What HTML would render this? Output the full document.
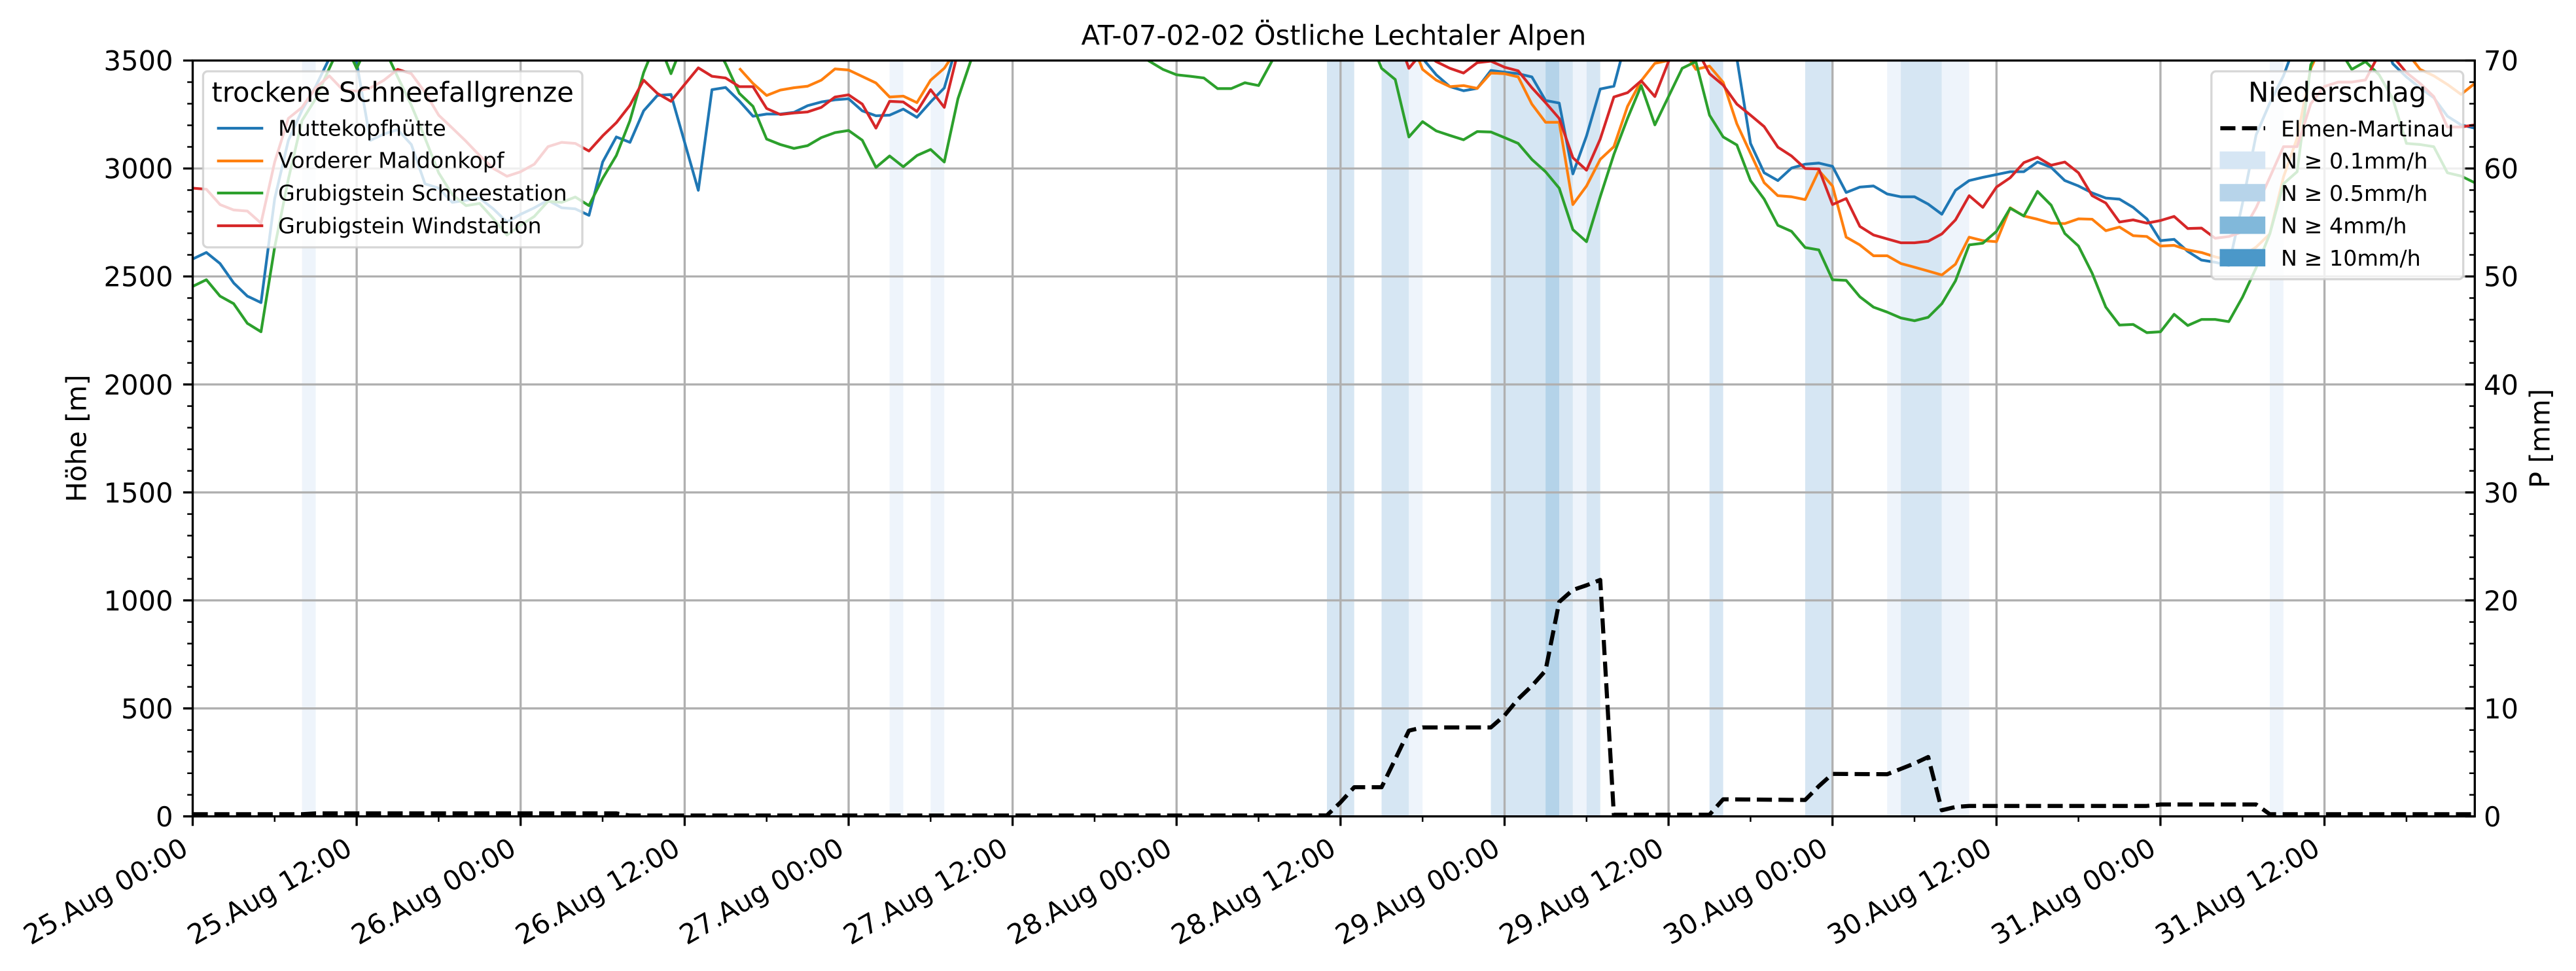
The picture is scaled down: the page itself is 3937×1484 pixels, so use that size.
<!DOCTYPE html>
<html>
<head>
<meta charset="utf-8">
<style>
html,body{margin:0;padding:0;background:#fff;}
svg{display:block;}
text{font-family:"DejaVu Sans","Liberation Sans",sans-serif;fill:#000;}
.tk{font-size:41.67px;}
.lg{font-size:33.33px;}
.ln{fill:none;stroke-width:4.17;stroke-linejoin:round;vector-effect:non-scaling-stroke;}
</style>
</head>
<body>
<svg width="3937" height="1484" viewBox="0 0 3937 1484" xmlns="http://www.w3.org/2000/svg">
<defs>
<clipPath id="ax"><rect x="294.5" y="92.5" width="3487.8" height="1155.2"/></clipPath>
</defs>
<rect x="0" y="0" width="3937" height="1484" fill="#fff"/>

<!-- precipitation bands -->
<g>
<rect x="461.6" y="92.5" width="20.9" height="1155.2" fill="#eef4fb"/>
<rect x="1359.6" y="92.5" width="20.9" height="1155.2" fill="#eef4fb"/>
<rect x="1422.3" y="92.5" width="20.9" height="1155.2" fill="#eef4fb"/>
<rect x="2028.0" y="92.5" width="41.7" height="1155.2" fill="#d6e6f3"/>
<rect x="2111.5" y="92.5" width="41.8" height="1155.2" fill="#d6e6f3"/>
<rect x="2153.3" y="92.5" width="20.9" height="1155.2" fill="#eef4fb"/>
<rect x="2278.6" y="92.5" width="83.5" height="1155.2" fill="#d6e6f3"/>
<rect x="2362.1" y="92.5" width="20.9" height="1155.2" fill="#b4d3e9"/>
<rect x="2383.0" y="92.5" width="20.9" height="1155.2" fill="#d6e6f3"/>
<rect x="2403.9" y="92.5" width="20.9" height="1155.2" fill="#eef4fb"/>
<rect x="2424.8" y="92.5" width="20.9" height="1155.2" fill="#d6e6f3"/>
<rect x="2612.7" y="92.5" width="20.9" height="1155.2" fill="#d6e6f3"/>
<rect x="2758.9" y="92.5" width="41.8" height="1155.2" fill="#d6e6f3"/>
<rect x="2884.2" y="92.5" width="20.9" height="1155.2" fill="#eef4fb"/>
<rect x="2905.1" y="92.5" width="62.7" height="1155.2" fill="#d6e6f3"/>
<rect x="2967.8" y="92.5" width="41.8" height="1155.2" fill="#eef4fb"/>
<rect x="3469.0" y="92.5" width="20.9" height="1155.2" fill="#eef4fb"/>
</g>

<!-- grid -->
<g stroke="#b0b0b0" stroke-width="3.33" fill="none">
<path d="M545.1 92.5V1247.7M795.7 92.5V1247.7M1046.4 92.5V1247.7M1297.0 92.5V1247.7M1547.6 92.5V1247.7M1798.2 92.5V1247.7M2048.8 92.5V1247.7M2299.5 92.5V1247.7M2550.1 92.5V1247.7M2800.7 92.5V1247.7M3051.3 92.5V1247.7M3301.9 92.5V1247.7M3552.6 92.5V1247.7"/>
<path d="M294.5 1082.7H3782.3M294.5 917.6H3782.3M294.5 752.6H3782.3M294.5 587.6H3782.3M294.5 422.5H3782.3M294.5 257.5H3782.3"/>
</g>

<!-- data lines -->
<g clip-path="url(#ax)">
<g transform="matrix(20.885 0 0 -0.330063 294.5 1247.7)">
<polyline class="ln" stroke="#1f77b4" points="0,2581 1,2611 2,2560 3,2470 4,2409 5,2379 6,2860 7,3130 8,3270 9,3380 10,3510 11,3620 12,3490 13,3130 14,3160 15,3180 16,3111 17,2929 18,2909 19,2843 20,2853 21,2863 22,2813 23,2752 24,2788 25,2818 26,2853 27,2818 28,2813 29,2783 30,3030 31,3146 32,3121 33,3267 34,3338 35,3343 36,3121 37,2899 38,3365 39,3375 40,3313 41,3242 42,3252 43,3252 44,3260 45,3291 46,3308 47,3318 48,3323 49,3267 50,3244 51,3247 52,3275 53,3237 54,3308 55,3373 56,3590 89,3620 90,3510 91,3434 92,3379 93,3360 94,3371 95,3454 96,3446 97,3439 98,3424 99,3315 100,3303 101,2975 102,3151 103,3368 104,3381 105,3620 112,3700 113,3510 114,3116 115,2980 116,2944 117,3002 118,3020 119,3025 120,3010 121,2889 122,2914 123,2919 124,2882 125,2869 126,2869 127,2835 128,2788 129,2899 130,2944 131,2959 132,2972 133,2985 134,2985 135,3030 136,3005 137,2944 138,2919 139,2887 140,2863 141,2858 142,2820 143,2767 144,2666 145,2672 146,2616 147,2576 148,2566 149,2550 150,2838 151,3156 152,3303 153,3429 154,3600 160,3650 161,3485 162,3424 163,3373 164,3328 165,3242 166,3202 167,3187"/>
<polyline class="ln" stroke="#ff7f0e" points="40,3464 41,3394 42,3338 43,3363 44,3374 45,3381 46,3409 47,3461 48,3456 49,3426 50,3396 51,3331 52,3335 53,3305 54,3409 55,3464 56,3560 89,3620 90,3459 91,3409 92,3379 93,3384 94,3371 95,3442 96,3439 97,3424 98,3298 99,3214 100,3214 101,2833 102,2919 103,3042 104,3101 105,3288 106,3406 107,3487 108,3500 109,3560 110,3459 111,3474 112,3399 113,3207 114,3070 115,2934 116,2874 117,2869 118,2856 119,2990 120,2919 121,2682 122,2646 123,2596 124,2596 125,2560 126,2543 127,2525 128,2507 129,2557 130,2682 131,2666 132,2661 133,2818 134,2780 135,2765 136,2747 137,2745 138,2767 139,2765 140,2712 141,2729 142,2689 143,2685 144,2641 145,2644 146,2623 147,2611 148,2591 149,2576 150,2596 151,2636 152,2697 153,2960 154,3141 155,3464 156,3600 161,3600 162,3540 163,3459 164,3429 165,3389 166,3343 167,3394"/>
<polyline class="ln" stroke="#2ca02c" points="0,2454 1,2485 2,2409 3,2374 4,2283 5,2244 6,2636 7,2950 8,3222 9,3323 10,3464 11,3600 12,3464 13,3600 14,3560 15,3424 16,3293 17,3141 18,2980 19,2879 20,2828 21,2838 22,2768 23,2692 24,2737 25,2778 26,2848 27,2843 28,2868 29,2828 30,2954 31,3060 32,3222 33,3444 34,3600 35,3439 36,3600 38,3600 39,3485 40,3348 41,3288 42,3136 43,3111 44,3093 45,3106 46,3143 47,3166 48,3176 49,3131 50,3005 51,3058 52,3008 53,3060 54,3088 55,3030 56,3323 57,3510 58,3620 68,3620 69,3540 70,3497 71,3459 72,3434 73,3427 74,3419 75,3370 76,3370 77,3397 78,3384 79,3500 80,3620 86,3620 87,3464 88,3412 89,3146 90,3217 91,3174 92,3153 93,3133 94,3171 95,3169 96,3143 97,3116 98,3042 99,2985 100,2909 101,2717 102,2661 103,2869 104,3065 105,3232 106,3384 107,3202 108,3333 109,3464 110,3495 111,3247 112,3146 113,3109 114,2944 115,2858 116,2737 117,2709 118,2634 119,2623 120,2485 121,2482 122,2406 123,2358 124,2335 125,2308 126,2295 127,2311 128,2374 129,2480 130,2646 131,2654 132,2709 133,2816 134,2780 135,2894 136,2830 137,2699 138,2641 139,2515 140,2358 141,2275 142,2278 143,2240 144,2244 145,2325 146,2273 147,2301 148,2301 149,2291 150,2404 151,2540 152,2697 153,2929 154,2985 155,3480 156,3600 157,3560 158,3459 159,3495 160,3434 161,3323 162,3116 163,3111 164,3101 165,2980 166,2965 167,2934"/>
<polyline class="ln" stroke="#d62728" points="0,2909 1,2904 2,2833 3,2808 4,2803 5,2747 6,3030 7,3232 8,3283 9,3373 10,3429 11,3363 12,3358 13,3373 14,3409 15,3459 16,3439 17,3353 18,3247 19,3187 20,3126 21,3060 22,3000 23,2964 24,2985 25,3020 26,3101 27,3121 28,3116 29,3081 30,3151 31,3212 32,3293 33,3409 34,3348 35,3311 36,3389 37,3466 38,3427 39,3419 40,3379 41,3379 42,3278 43,3250 44,3257 45,3262 46,3283 47,3331 48,3341 49,3298 50,3187 51,3311 52,3308 53,3264 54,3365 55,3283 56,3540 88,3640 89,3464 90,3540 91,3495 92,3464 93,3442 94,3490 95,3497 96,3469 97,3452 98,3374 99,3305 100,3232 101,3050 102,2992 103,3136 104,3331 105,3351 106,3406 107,3333 108,3495 109,3620 110,3560 111,3439 112,3386 113,3298 114,3247 115,3194 116,3099 117,3058 118,3000 119,2998 120,2833 121,2861 122,2732 123,2692 124,2674 125,2656 126,2656 127,2663 128,2697 129,2762 130,2874 131,2820 132,2914 133,2957 134,3027 135,3052 136,3015 137,3030 138,2980 139,2874 140,2840 141,2752 142,2762 143,2747 144,2759 145,2778 146,2722 147,2724 148,2677 149,2685 150,2707 151,2818 152,2959 153,3101 154,3101 155,3300 156,3380 157,3400 158,3400 159,3410 160,3530 161,3520 162,3444 163,3394 164,3333 165,3192 166,3192 167,3202"/>
</g>
<polyline fill="none" stroke="#000" stroke-width="6.25" stroke-dasharray="23.1 10" stroke-linejoin="round" points="294.5,1244.4 461.6,1244.4 482.5,1243.1 941.9,1243.1 962.8,1246.4 2007.1,1246.4 2028.0,1246.1 2048.8,1226.2 2069.7,1203.1 2111.5,1203.1 2132.4,1160.2 2153.3,1116.7 2174.2,1111.7 2278.6,1111.7 2299.5,1093.4 2320.3,1068.3 2341.2,1048.3 2362.1,1024.9 2383.0,920.0 2403.9,901.6 2424.8,894.5 2445.7,886.3 2466.5,1245.1 2612.7,1245.1 2633.6,1221.6 2758.9,1222.6 2779.8,1201.5 2800.7,1182.7 2884.2,1183.3 2905.1,1175.1 2926.0,1166.8 2946.9,1156.9 2967.8,1238.3 2988.7,1233.3 3009.6,1231.7 3281.1,1231.7 3302.0,1229.5 3448.1,1229.5 3469.0,1244.4 3782.3,1244.4"/>
</g>

<!-- legend 1 -->
<g>
<rect x="310.4" y="109" width="579.6" height="269" rx="7" ry="7" fill="rgba(255,255,255,0.8)" stroke="rgba(204,204,204,0.8)" stroke-width="3.33"/>
<text class="tk" x="600.2" y="155.7" text-anchor="middle">trockene Schneefallgrenze</text>
<line x1="331.7" y1="196" x2="402.3" y2="196" stroke="#1f77b4" stroke-width="4.17"/>
<line x1="331.7" y1="246" x2="402.3" y2="246" stroke="#ff7f0e" stroke-width="4.17"/>
<line x1="331.7" y1="295" x2="402.3" y2="295" stroke="#2ca02c" stroke-width="4.17"/>
<line x1="331.7" y1="345" x2="402.3" y2="345" stroke="#d62728" stroke-width="4.17"/>
<text class="lg" x="425" y="207.7">Muttekopfhütte</text>
<text class="lg" x="425" y="256.7">Vorderer Maldonkopf</text>
<text class="lg" x="425" y="306.7">Grubigstein Schneestation</text>
<text class="lg" x="425" y="356.7">Grubigstein Windstation</text>
</g>

<!-- legend 2 -->
<g>
<rect x="3379.8" y="109" width="384.9" height="317.7" rx="7" ry="7" fill="rgba(255,255,255,0.8)" stroke="rgba(204,204,204,0.8)" stroke-width="3.33"/>
<text class="tk" x="3572.2" y="155.7" text-anchor="middle">Niederschlag</text>
<line x1="3393.4" y1="196" x2="3462" y2="196" stroke="#000" stroke-width="6.25" stroke-dasharray="23.1 10"/>
<rect x="3392.5" y="231.5" width="69.7" height="26.6" fill="#d6e6f4"/>
<rect x="3392.5" y="281.2" width="69.7" height="26.6" fill="#b7d4ea"/>
<rect x="3392.5" y="330.9" width="69.7" height="26.6" fill="#81b8da"/>
<rect x="3392.5" y="380.6" width="69.7" height="26.6" fill="#4b98c9"/>
<text class="lg" x="3486" y="208.3">Elmen-Martinau</text>
<text class="lg" x="3486" y="257.7">N ≥ 0.1mm/h</text>
<text class="lg" x="3486" y="306.9">N ≥ 0.5mm/h</text>
<text class="lg" x="3486" y="356.6">N ≥ 4mm/h</text>
<text class="lg" x="3486" y="405.9">N ≥ 10mm/h</text>
</g>

<!-- spines -->
<rect x="294.5" y="92.5" width="3487.8" height="1155.2" fill="none" stroke="#000" stroke-width="3.33"/>

<!-- ticks -->
<g stroke="#000" fill="none">
<path stroke-width="3.33" d="M294.5 1247.7V1262.3M545.1 1247.7V1262.3M795.7 1247.7V1262.3M1046.4 1247.7V1262.3M1297.0 1247.7V1262.3M1547.6 1247.7V1262.3M1798.2 1247.7V1262.3M2048.8 1247.7V1262.3M2299.5 1247.7V1262.3M2550.1 1247.7V1262.3M2800.7 1247.7V1262.3M3051.3 1247.7V1262.3M3301.9 1247.7V1262.3M3552.6 1247.7V1262.3"/>
<path stroke-width="2.5" d="M419.8 1247.7V1256M670.4 1247.7V1256M921.0 1247.7V1256M1171.7 1247.7V1256M1422.3 1247.7V1256M1672.9 1247.7V1256M1923.5 1247.7V1256M2174.2 1247.7V1256M2424.8 1247.7V1256M2675.4 1247.7V1256M2926.0 1247.7V1256M3176.6 1247.7V1256M3427.3 1247.7V1256M3677.9 1247.7V1256"/>
<path stroke-width="3.33" d="M279.9 1247.7H294.5M279.9 1082.7H294.5M279.9 917.6H294.5M279.9 752.6H294.5M279.9 587.6H294.5M279.9 422.5H294.5M279.9 257.5H294.5M279.9 92.5H294.5"/>
<path stroke-width="2.5" d="M286.2 1214.7H294.5M286.2 1181.7H294.5M286.2 1148.7H294.5M286.2 1115.7H294.5M286.2 1049.7H294.5M286.2 1016.7H294.5M286.2 983.6H294.5M286.2 950.6H294.5M286.2 884.6H294.5M286.2 851.6H294.5M286.2 818.6H294.5M286.2 785.6H294.5M286.2 719.6H294.5M286.2 686.6H294.5M286.2 653.6H294.5M286.2 620.6H294.5M286.2 554.6H294.5M286.2 521.6H294.5M286.2 488.6H294.5M286.2 455.5H294.5M286.2 389.5H294.5M286.2 356.5H294.5M286.2 323.5H294.5M286.2 290.5H294.5M286.2 224.5H294.5M286.2 191.5H294.5M286.2 158.5H294.5M286.2 125.5H294.5"/>
<path stroke-width="3.33" d="M3767.7 1247.7H3782.3M3767.7 1082.7H3782.3M3767.7 917.6H3782.3M3767.7 752.6H3782.3M3767.7 587.6H3782.3M3767.7 422.5H3782.3M3767.7 257.5H3782.3M3767.7 92.5H3782.3"/>
<path stroke-width="2.5" d="M3774 1214.7H3782.3M3774 1181.7H3782.3M3774 1148.7H3782.3M3774 1115.7H3782.3M3774 1049.7H3782.3M3774 1016.7H3782.3M3774 983.6H3782.3M3774 950.6H3782.3M3774 884.6H3782.3M3774 851.6H3782.3M3774 818.6H3782.3M3774 785.6H3782.3M3774 719.6H3782.3M3774 686.6H3782.3M3774 653.6H3782.3M3774 620.6H3782.3M3774 554.6H3782.3M3774 521.6H3782.3M3774 488.6H3782.3M3774 455.5H3782.3M3774 389.5H3782.3M3774 356.5H3782.3M3774 323.5H3782.3M3774 290.5H3782.3M3774 224.5H3782.3M3774 191.5H3782.3M3774 158.5H3782.3M3774 125.5H3782.3"/>
</g>

<!-- left tick labels -->
<g class="tk" text-anchor="end">
<text class="tk" x="264.5" y="1262.9" text-anchor="end">0</text>
<text class="tk" x="264.5" y="1097.9" text-anchor="end">500</text>
<text class="tk" x="264.5" y="932.8" text-anchor="end">1000</text>
<text class="tk" x="264.5" y="767.8" text-anchor="end">1500</text>
<text class="tk" x="264.5" y="602.8" text-anchor="end">2000</text>
<text class="tk" x="264.5" y="437.7" text-anchor="end">2500</text>
<text class="tk" x="264.5" y="272.7" text-anchor="end">3000</text>
<text class="tk" x="264.5" y="107.7" text-anchor="end">3500</text>
</g>

<!-- right tick labels -->
<g>
<text class="tk" x="3796" y="1262.9">0</text>
<text class="tk" x="3796" y="1097.9">10</text>
<text class="tk" x="3796" y="932.8">20</text>
<text class="tk" x="3796" y="767.8">30</text>
<text class="tk" x="3796" y="602.8">40</text>
<text class="tk" x="3796" y="437.7">50</text>
<text class="tk" x="3796" y="272.7">60</text>
<text class="tk" x="3796" y="107.7">70</text>
</g>

<!-- x tick labels -->
<g>
<text class="tk" text-anchor="end" transform="translate(290.2,1304.4) rotate(-30)">25.Aug 00:00</text>
<text class="tk" text-anchor="end" transform="translate(540.8,1304.4) rotate(-30)">25.Aug 12:00</text>
<text class="tk" text-anchor="end" transform="translate(791.4,1304.4) rotate(-30)">26.Aug 00:00</text>
<text class="tk" text-anchor="end" transform="translate(1042.1,1304.4) rotate(-30)">26.Aug 12:00</text>
<text class="tk" text-anchor="end" transform="translate(1292.7,1304.4) rotate(-30)">27.Aug 00:00</text>
<text class="tk" text-anchor="end" transform="translate(1543.3,1304.4) rotate(-30)">27.Aug 12:00</text>
<text class="tk" text-anchor="end" transform="translate(1793.9,1304.4) rotate(-30)">28.Aug 00:00</text>
<text class="tk" text-anchor="end" transform="translate(2044.5,1304.4) rotate(-30)">28.Aug 12:00</text>
<text class="tk" text-anchor="end" transform="translate(2295.2,1304.4) rotate(-30)">29.Aug 00:00</text>
<text class="tk" text-anchor="end" transform="translate(2545.8,1304.4) rotate(-30)">29.Aug 12:00</text>
<text class="tk" text-anchor="end" transform="translate(2796.4,1304.4) rotate(-30)">30.Aug 00:00</text>
<text class="tk" text-anchor="end" transform="translate(3047.0,1304.4) rotate(-30)">30.Aug 12:00</text>
<text class="tk" text-anchor="end" transform="translate(3297.6,1304.4) rotate(-30)">31.Aug 00:00</text>
<text class="tk" text-anchor="end" transform="translate(3548.3,1304.4) rotate(-30)">31.Aug 12:00</text>
</g>

<!-- title & axis labels -->
<text class="tk" x="2038.4" y="68.3" text-anchor="middle">AT-07-02-02 Östliche Lechtaler Alpen</text>
<text class="tk" text-anchor="middle" transform="translate(131.7,670.1) rotate(-90)">Höhe [m]</text>
<text class="tk" text-anchor="middle" transform="translate(3896.7,670.1) rotate(-90)">P [mm]</text>
</svg>
</body>
</html>
